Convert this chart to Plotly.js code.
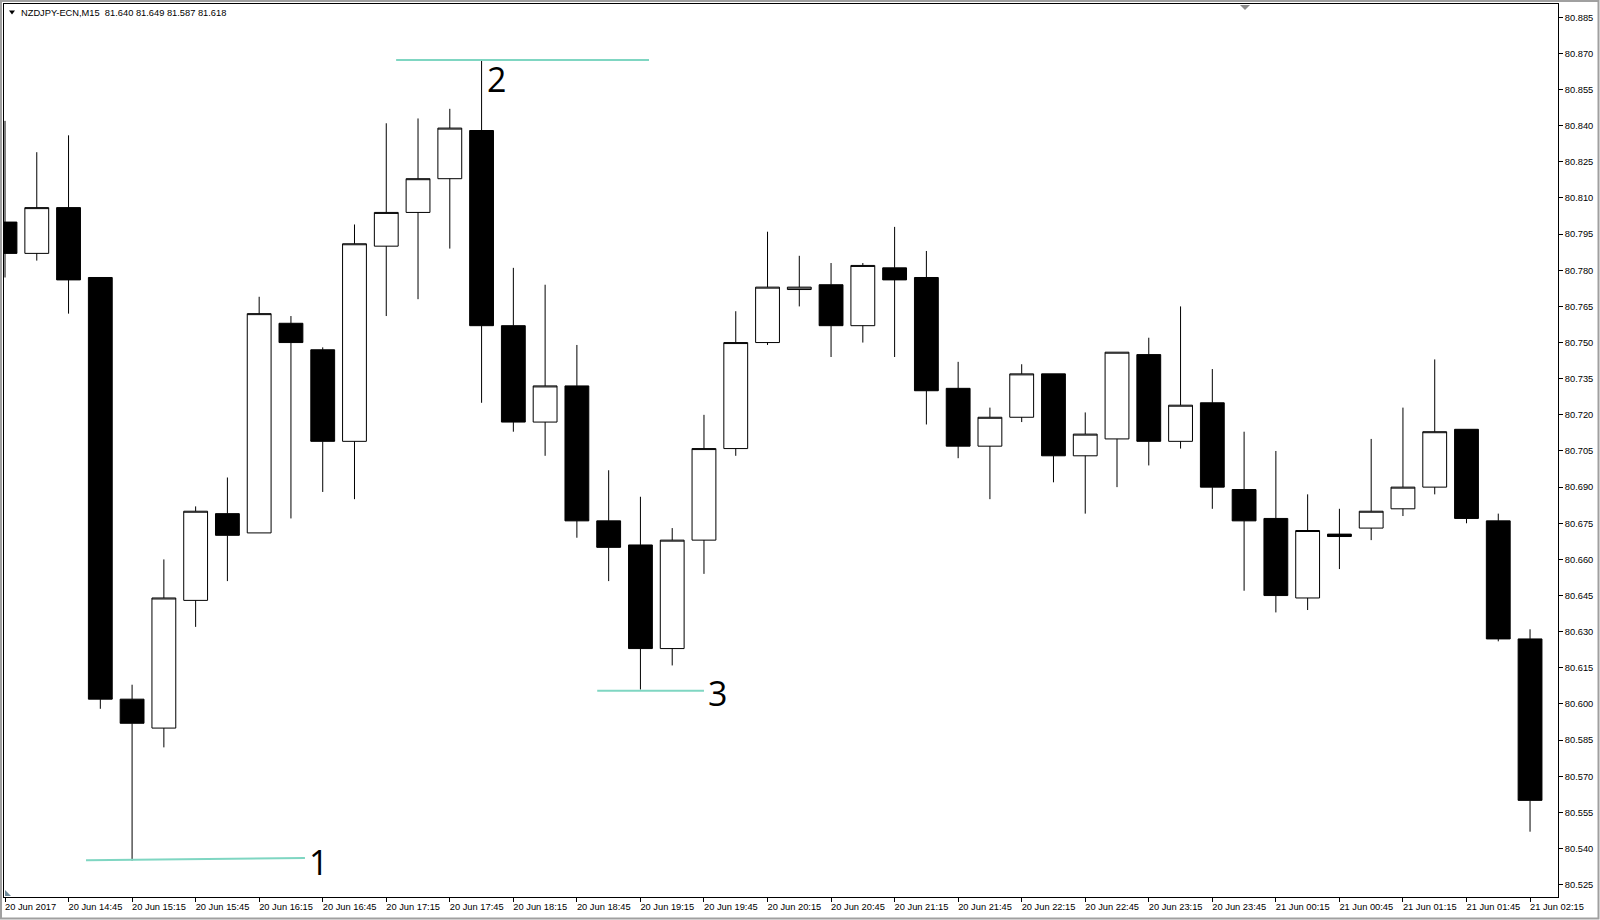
<!DOCTYPE html>
<html>
<head>
<meta charset="utf-8">
<script src="https://cdn.plot.ly/plotly-3.0.1.min.js"></script>
<style>
  html, body { margin: 0; padding: 0; background: #ffffff; }
  #chart { width: 1600px; height: 920px; }
</style>
</head>
<body>
<div id="chart"></div>
<script>
// ---- data ----
const symbolTitle = "NZDJPY-ECN,M15  81.640 81.649 81.587 81.618";

const opens  = [80.800,80.787,80.806,80.777,80.602,80.590,80.643,80.679,80.671,80.758,80.747,80.709,80.790,80.804,80.818,80.838,80.757,80.717,80.732,80.676,80.666,80.623,80.668,80.706,80.750,80.772,80.774,80.757,80.781,80.777,80.731,80.707,80.719,80.737,80.703,80.710,80.745,80.709,80.725,80.689,80.677,80.644,80.6705,80.673,80.681,80.690,80.714,80.676,80.627];
const highs  = [80.842,80.829,80.836,80.777,80.608,80.660,80.682,80.694,80.769,80.761,80.748,80.799,80.841,80.843,80.847,80.867,80.781,80.774,80.749,80.697,80.686,80.673,80.720,80.763,80.796,80.786,80.783,80.783,80.798,80.788,80.742,80.723,80.741,80.737,80.721,80.746,80.752,80.765,80.739,80.713,80.705,80.687,80.681,80.710,80.723,80.743,80.714,80.679,80.631];
const lows   = [80.777,80.784,80.762,80.598,80.535,80.582,80.632,80.651,80.671,80.677,80.688,80.685,80.761,80.768,80.789,80.725,80.713,80.703,80.669,80.651,80.606,80.616,80.654,80.703,80.749,80.765,80.744,80.750,80.744,80.716,80.702,80.685,80.717,80.692,80.679,80.690,80.699,80.706,80.681,80.647,80.638,80.639,80.656,80.668,80.678,80.687,80.675,80.626,80.547];
const closes = [80.787,80.806,80.776,80.602,80.592,80.644,80.680,80.670,80.762,80.750,80.709,80.791,80.804,80.818,80.839,80.757,80.717,80.732,80.676,80.665,80.623,80.668,80.706,80.750,80.773,80.773,80.757,80.782,80.776,80.730,80.707,80.719,80.737,80.703,80.712,80.746,80.709,80.724,80.690,80.676,80.645,80.672,80.6695,80.680,80.690,80.713,80.677,80.627,80.560];

// one label every second bar (bar index = 2 * label index)
const timeLabels = ["20 Jun 2017","20 Jun 14:45","20 Jun 15:15","20 Jun 15:45","20 Jun 16:15","20 Jun 16:45",
  "20 Jun 17:15","20 Jun 17:45","20 Jun 18:15","20 Jun 18:45","20 Jun 19:15","20 Jun 19:45","20 Jun 20:15",
  "20 Jun 20:45","20 Jun 21:15","20 Jun 21:45","20 Jun 22:15","20 Jun 22:45","20 Jun 23:15","20 Jun 23:45",
  "21 Jun 00:15","21 Jun 00:45","21 Jun 01:15","21 Jun 01:45","21 Jun 02:15"];

// drawn level lines (bar index, price)
const line1X = [2.55, 9.44],  line1Y = [80.5352, 80.5361];
const line2X = [12.31, 20.27], line2Y = [80.8673, 80.8673];
const line3X = [18.64, 22.0],  line3Y = [80.6055, 80.6055];
const markLabels = ["1", "2", "3"];

// ---- figure ----
const barIdx = opens.map((_, i) => i);
const tickIdx = timeLabels.map((_, i) => 2 * i);

const W = 1600, H = 920, ML = 4, MR = 42, MT = 4, MB = 23;
const PW = W - ML - MR, PH = H - MT - MB;
const px = x => (x - ML) / PW;
const py = y => 1 - (y - MT) / PH;

const lineStyle = {color: '#7fd6c2', width: 2};
const traces = [
  {type: 'scatter', mode: 'lines', x: line1X, y: line1Y, line: lineStyle, hoverinfo: 'skip', showlegend: false},
  {type: 'scatter', mode: 'lines', x: line2X, y: line2Y, line: lineStyle, hoverinfo: 'skip', showlegend: false},
  {type: 'scatter', mode: 'lines', x: line3X, y: line3Y, line: lineStyle, hoverinfo: 'skip', showlegend: false},
  {
    type: 'candlestick', x: barIdx, open: opens, high: highs, low: lows, close: closes,
    increasing: {line: {color: '#000000', width: 1}, fillcolor: '#ffffff'},
    decreasing: {line: {color: '#000000', width: 1}, fillcolor: '#000000'},
    whiskerwidth: 0, hoverinfo: 'skip', showlegend: false
  }
];

const smallFont = {family: 'Liberation Sans, Arial, sans-serif', size: 9.3, color: '#000000'};
const bigFont = {family: 'Open Sans, Noto Sans, sans-serif', size: 34, color: '#000000'};

const layout = {
  width: W, height: H,
  margin: {l: ML, r: MR, t: MT, b: MB, pad: 0},
  paper_bgcolor: '#ffffff', plot_bgcolor: '#ffffff',
  showlegend: false,
  boxgap: 0.25, boxgroupgap: 0,
  xaxis: {
    range: [-0.0315, 48.88], showgrid: false, zeroline: false,
    showline: true, linecolor: '#000000', linewidth: 1, mirror: true,
    ticks: 'outside', ticklen: 4, tickcolor: '#000000', tickwidth: 1,
    tickmode: 'array', tickvals: tickIdx, ticktext: timeLabels,
    ticklabelposition: 'outside right', ticklabelshift: -1, ticklabelstandoff: 1,
    tickfont: smallFont, rangeslider: {visible: false}, fixedrange: true
  },
  yaxis: {
    range: [80.5199, 80.8905], side: 'right', showgrid: false, zeroline: false,
    showline: true, linecolor: '#000000', linewidth: 1, mirror: true,
    ticks: 'outside', ticklen: 4, tickcolor: '#000000', tickwidth: 1,
    tick0: 80.525, dtick: 0.015, tickformat: '.3f',
    tickfont: smallFont, ticklabelstandoff: 0, fixedrange: true
  },
  annotations: [
    {xref: 'paper', yref: 'paper', x: px(19), y: py(12.5), xanchor: 'left', yanchor: 'middle',
     text: symbolTitle, showarrow: false, font: smallFont},
    {xref: 'x', yref: 'y', x: 9.5, y: 80.5346, xanchor: 'left', yanchor: 'middle',
     text: markLabels[0], showarrow: false, font: bigFont},
    {xref: 'x', yref: 'y', x: 15.1, y: 80.8592, xanchor: 'left', yanchor: 'middle',
     text: markLabels[1], showarrow: false, font: bigFont},
    {xref: 'x', yref: 'y', x: 22.05, y: 80.6045, xanchor: 'left', yanchor: 'middle',
     text: markLabels[2], showarrow: false, font: bigFont}
  ],
  shapes: [
    // outer window frame
    {type: 'rect', xref: 'paper', yref: 'paper', x0: px(1), x1: px(1598.5), y0: py(1), y1: py(918.5),
     line: {color: '#a0a0a0', width: 2}, fillcolor: 'rgba(0,0,0,0)', layer: 'above'},
    // symbol menu triangle
    {type: 'path', xref: 'paper', yref: 'paper',
     path: `M ${px(9)} ${py(10.5)} L ${px(15)} ${py(10.5)} L ${px(12)} ${py(14.5)} Z`,
     fillcolor: '#000000', line: {width: 0}},
    // chart shift marker at top
    {type: 'path', xref: 'paper', yref: 'paper',
     path: `M ${px(1240)} ${py(5)} L ${px(1250)} ${py(5)} L ${px(1245)} ${py(10)} Z`,
     fillcolor: '#8c8c8c', line: {width: 0}},
    // small corner marker bottom-left
    {type: 'path', xref: 'paper', yref: 'paper',
     path: `M ${px(5)} ${py(890)} L ${px(5)} ${py(896)} L ${px(11)} ${py(896)} Z`,
     fillcolor: '#6f8a9a', line: {width: 0}}
  ]
};

Plotly.newPlot('chart', traces, layout, {staticPlot: true, displayModeBar: false});
</script>
</body>
</html>
